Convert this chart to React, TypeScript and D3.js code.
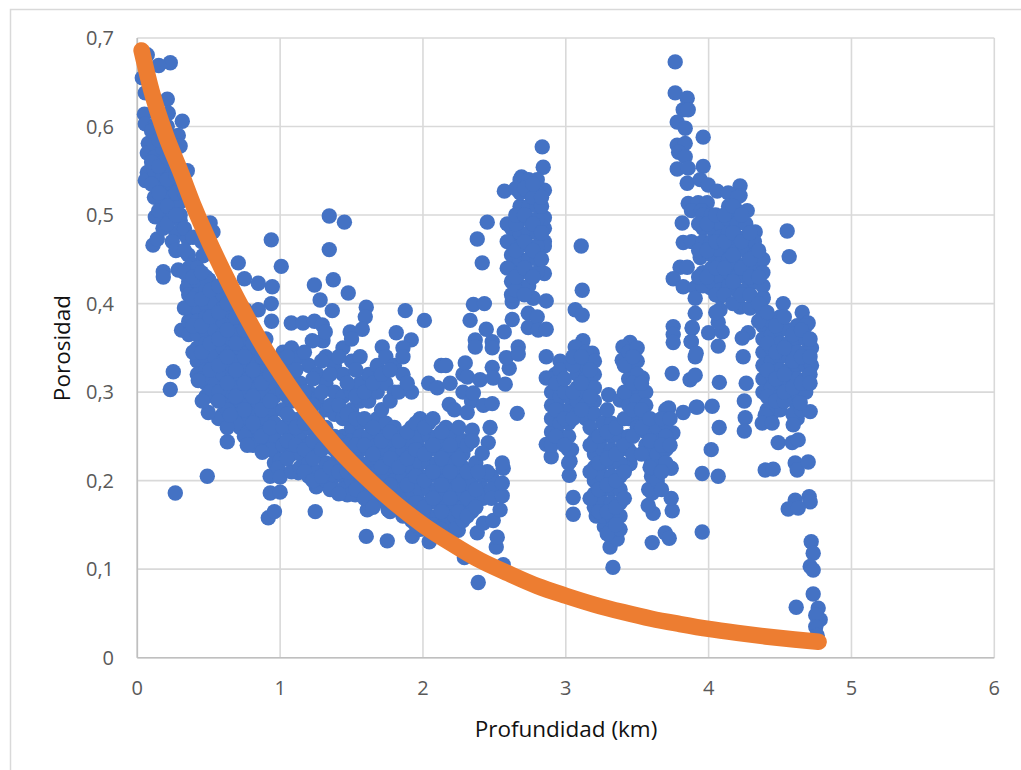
import React from "react";
import * as d3 from "d3";

const xTicks = [0, 1, 2, 3, 4, 5, 6];
const yTicks = [0, 0.1, 0.2, 0.3, 0.4, 0.5, 0.6, 0.7];
const xTitle = "Profundidad (km)";
const yTitle = "Porosidad";

type Pair = [number, number];
type Col = [number, number[]];

const shallowPairs: Pair[] = [[.231,.672],[.15,.669],[.07,.681],[.035,.655],[.056,.638],[.21,.631],[.05,.614],[.056,.603],[.315,.606],[.217,.615],[.287,.59],[.30,.578],[.077,.581],[.07,.57],[.35,.55],[.07,.548],[.056,.539],[.126,.498],[.18,.494],[.11,.466],[.14,.473],[.18,.485],[.51,.491],[.53,.481],[.30,.494],[.27,.48],[.35,.474],[.245,.47],[.357,.455],[.46,.454],[.39,.444],[.287,.438],[.182,.436],[.182,.43],[.707,.446],[.75,.428],[.5,.427],[.57,.413],[.35,.418],[.365,.41],[.48,.40],[.55,.39],[.38,.389],[.336,.37],[.31,.37],[.252,.323],[.231,.303],[.266,.186],[.49,.205]];
const shallowCols: Col[] = [
  [.12,[.60,.58,.565,.55,.535,.52]],[.18,[.59,.575,.56,.545,.53,.515]],[.24,[.58,.565,.55,.535,.52,.505]],[.30,[.53,.515,.50]],
  [.36,[.44,.425,.41,.395,.38,.365]],[.42,[.44,.425,.41,.395,.38,.365,.35,.335,.32]],[.48,[.43,.415,.40,.385,.37,.355,.34,.325,.31,.295]],[.54,[.40,.385,.37,.355,.34,.325,.31,.295]],[.60,[.41,.395,.38,.365,.35,.335,.32,.305,.29,.275]],[.66,[.39,.375,.36,.345,.33,.315,.30,.285,.27]],[.72,[.38,.365,.35,.335,.32,.305,.29,.275,.26]],[.78,[.36,.345,.33,.315,.30,.285,.27,.255,.245]],[.84,[.35,.335,.32,.305,.29,.275,.26,.245]],[.90,[.36,.33,.315,.30,.285,.27,.255,.24]],[.96,[.31,.295,.28,.265,.25,.235,.22]],
];
const shallowInfill: Col[] = [
  [.10,[.595,.56,.535]],[.15,[.61,.585,.555,.525,.505]],[.21,[.60,.565,.54,.51,.49]],[.27,[.545,.525,.50,.46]],[.33,[.525,.485,.46,.435,.395]],[.39,[.475,.43,.405,.375,.345]],[.45,[.47,.435,.405,.375,.345,.315]],[.51,[.415,.385,.355,.325,.30]],[.57,[.42,.39,.36,.33,.30,.27]],[.63,[.40,.37,.34,.31,.28]],[.69,[.385,.355,.325,.295,.265]],[.75,[.37,.34,.31,.28,.25]],[.81,[.355,.325,.295,.265,.24]],[.87,[.34,.31,.28,.25]],[.93,[.32,.29,.26,.235,.205]],
];
const midPairs: Pair[] = [[.917,.158],[.96,.165],[1.246,.165],[.931,.186],[1.0,.187],[1.603,.137],[1.75,.132],[1.925,.137],[2.044,.131],[2.29,.113],[2.247,.144],[1.61,.167],[1.757,.167],[1.47,.184],[1.526,.184],[1.253,.193],[1.127,.209],[1.337,.197],[1.0,.223],[.987,.214],[1.0,.204],[1.022,.24],[.875,.232],[.77,.24],[.63,.244],[.63,.26],[.65,.274],[.497,.277],[.455,.29],[.567,.29],[.427,.313],[1.344,.499],[1.45,.492],[1.344,.461],[1.372,.427],[1.24,.421],[1.477,.412],[1.28,.404],[1.365,.392],[1.30,.358],[.938,.472],[1.008,.442],[.847,.423],[.945,.419],[.938,.40],[.94,.38],[1.078,.378],[1.16,.378],[1.24,.38],[1.295,.376],[1.316,.368],[1.603,.396],[1.596,.385],[1.49,.368],[1.575,.371],[1.876,.392],[2.01,.381],[1.813,.367],[1.918,.359],[1.715,.351],[.847,.393],[.756,.393],[1.225,.358],[1.86,.35],[2.128,.33],[2.184,.286]];
const midCols: Col[] = [
  [1.02,[.345,.33,.315,.30,.28,.26,.24]],[1.08,[.35,.33,.31,.29,.27,.25,.23,.21]],[1.14,[.34,.31,.29,.27,.25,.23,.215]],[1.2,[.33,.30,.28,.26,.24,.22,.205]],[1.26,[.32,.29,.27,.25,.23,.21,.195]],[1.32,[.34,.31,.28,.26,.24,.22,.20]],[1.38,[.33,.30,.275,.25,.235,.22,.205,.19]],[1.44,[.35,.32,.295,.27,.25,.235,.22,.205,.19]],[1.5,[.36,.335,.30,.28,.26,.245,.23,.215,.20,.185]],[1.56,[.34,.31,.29,.265,.25,.235,.22,.205,.19]],[1.62,[.32,.29,.265,.25,.235,.22,.205,.19,.175]],[1.68,[.33,.30,.27,.255,.24,.225,.21,.195,.18]],[1.74,[.34,.31,.265,.25,.235,.22,.205,.19,.175]],[1.80,[.33,.30,.26,.245,.23,.215,.20,.185,.17]],[1.86,[.34,.32,.25,.235,.22,.205,.19,.175,.16]],[1.92,[.30,.26,.245,.23,.215,.20,.185,.17,.155]],[1.98,[.27,.25,.235,.22,.205,.19,.175,.16,.145]],[2.04,[.31,.265,.25,.235,.22,.205,.19,.175,.16]],[2.10,[.305,.25,.235,.22,.205,.19,.175,.16]],[2.16,[.33,.26,.245,.23,.215,.20,.185,.17,.155]],[2.22,[.28,.25,.235,.22,.205,.19,.175,.16,.145]],[2.28,[.32,.30,.245,.23,.215,.20,.185,.17,.155]],[2.34,[.29,.21,.195,.18,.165]],[2.42,[.205,.19,.18]],[2.48,[.205,.19,.18]],
];
const midInfill: Col[] = [
  [1.05,[.34,.32,.295,.275,.245,.225]],[1.11,[.325,.30,.26,.24]],[1.17,[.345,.30,.265,.235,.21]],[1.23,[.315,.285,.245,.225,.20]],[1.29,[.335,.30,.26,.235,.205]],[1.35,[.32,.285,.25,.215,.19]],[1.41,[.34,.285,.245,.21,.185]],[1.47,[.31,.275,.24,.21]],[1.53,[.325,.295,.27,.24,.21,.19]],[1.59,[.30,.27,.24,.21,.18]],[1.65,[.31,.26,.23,.20,.17]],[1.71,[.32,.28,.245,.215,.185]],[1.77,[.325,.29,.255,.225,.195,.165]],[1.83,[.30,.245,.215,.18]],[1.89,[.31,.255,.225,.195,.165]],[1.95,[.265,.235,.205,.175,.15]],[2.01,[.26,.23,.20,.17]],[2.07,[.27,.24,.21,.18,.15]],[2.13,[.255,.225,.195,.165,.145]],[2.19,[.31,.24,.21,.18]],[2.25,[.26,.225,.195,.165]],[2.31,[.24,.21,.18,.16]],[2.37,[.22,.19,.17]],
];
const towerPairs: Pair[] = [[2.387,.085],[2.513,.125],[2.52,.136],[2.38,.141],[2.423,.152],[2.562,.105],[2.492,.155],[2.54,.167],[2.555,.183],[2.562,.214],[2.555,.22],[2.45,.21],[2.387,.21],[2.555,.197],[2.47,.26],[2.457,.243],[2.345,.257],[2.415,.231],[2.345,.245],[2.31,.277],[2.423,.285],[2.485,.287],[2.353,.299],[2.296,.333],[2.31,.317],[2.40,.314],[2.485,.328],[2.492,.316],[2.576,.309],[2.604,.327],[2.583,.339],[2.667,.351],[2.667,.343],[2.66,.276],[2.863,.34],[2.485,.357],[2.485,.35],[2.366,.359],[2.366,.351],[2.443,.371],[2.569,.368],[2.625,.382],[2.33,.381],[2.353,.399],[2.43,.40],[2.415,.446],[2.38,.473],[2.45,.492],[2.57,.527],[2.835,.577],[2.842,.554],[2.737,.389],[2.737,.373],[2.80,.385],[2.807,.37],[2.863,.371],[2.863,.403],[2.772,.406],[2.625,.402],[2.85,.434],[2.85,.47],[2.85,.485],[2.85,.497],[2.85,.465],[2.85,.528],[2.69,.543],[2.80,.54]];
const towerCols: Col[] = [
  [2.62,[.41,.425,.44,.455,.47,.485]],[2.68,[.42,.435,.45,.465,.48,.495,.51,.525,.54]],[2.74,[.42,.435,.45,.465,.48,.495,.51,.525,.54]],[2.80,[.435,.45,.465,.48,.495,.51,.525]],
];
const towerInfill: Col[] = [
  [2.59,[.44,.47,.49]],[2.65,[.415,.43,.46,.49,.50,.53]],[2.71,[.41,.44,.47,.50,.53]],[2.77,[.43,.46,.49,.52,.535]],[2.83,[.45,.48,.51,.52]],
];
const thirdPairs: Pair[] = [[2.926,.32],[2.863,.316],[2.96,.335],[3.108,.465],[3.115,.415],[3.066,.393],[3.115,.387],[3.12,.358],[3.066,.351],[3.185,.344],[3.45,.356],[3.40,.351],[3.48,.345],[3.395,.336],[3.535,.316],[3.052,.181],[3.052,.162],[3.024,.206],[3.03,.222],[3.04,.235],[2.898,.227],[2.863,.241],[3.33,.102],[3.31,.125],[3.36,.134],[3.213,.16],[3.27,.148],[3.605,.13],[3.696,.141],[3.724,.135],[3.745,.166],[3.738,.18],[3.612,.163],[3.577,.172],[3.605,.186],[3.738,.214],[3.45,.219],[3.955,.208],[3.955,.142],[3.745,.321],[3.752,.374],[3.752,.365],[3.752,.356],[3.87,.314],[3.906,.319],[3.885,.372],[3.878,.357],[3.906,.34],[3.822,.277],[3.913,.283],[3.3,.297],[3.38,.291],[3.75,.254],[3.72,.282],[3.58,.19]];
const thirdCols: Col[] = [
  [2.9,[.24,.255,.27,.285,.30,.315]],[2.96,[.25,.265,.28,.295,.31,.325]],[3.02,[.22,.235,.25,.265,.28,.295]],[3.08,[.33,.32,.305,.29,.275]],[3.14,[.345,.33,.315,.30,.285,.27]],[3.2,[.335,.32,.305,.29,.275,.245,.23,.215,.20,.185,.17]],[3.26,[.265,.25,.235,.22,.205,.19,.175,.16]],[3.32,[.265,.25,.235,.22,.205,.19,.175,.16,.145]],[3.38,[.25,.235,.22,.205,.19,.175,.16,.145]],[3.44,[.345,.33,.315,.30,.285,.27,.25,.235]],[3.5,[.35,.335,.32,.305,.29,.275,.26]],[3.56,[.30,.285,.27,.255,.24]],[3.6,[.25,.235,.22,.205]],[3.64,[.26,.245,.23,.215,.20]],[3.7,[.28,.265,.25,.235,.22]],
];
const thirdInfill: Col[] = [
  [2.93,[.25,.28,.31]],[2.99,[.24,.27,.30,.315]],[3.05,[.27,.30,.33,.34]],[3.11,[.28,.31,.34]],[3.17,[.26,.295,.325,.24,.21,.18]],[3.23,[.25,.22,.19,.165]],[3.29,[.255,.225,.195,.165,.14,.28]],[3.35,[.26,.23,.20,.17,.15]],[3.41,[.33,.30,.27,.24,.21,.18]],[3.47,[.34,.31,.28,.25,.23]],[3.53,[.31,.28,.26,.23]],[3.59,[.27,.245,.215]],[3.67,[.27,.24,.21,.19]],[3.73,[.27,.24]],
];
const deepPairs: Pair[] = [[3.766,.673],[3.766,.638],[3.85,.632],[3.822,.619],[3.857,.619],[3.78,.605],[3.836,.598],[3.962,.588],[3.78,.579],[3.836,.581],[3.79,.571],[3.836,.566],[3.78,.552],[3.857,.553],[3.962,.555],[3.85,.536],[3.941,.54],[3.997,.534],[4.06,.527],[4.22,.533],[4.137,.525],[4.22,.522],[3.857,.513],[3.927,.514],[3.99,.514],[4.27,.505],[4.15,.509],[3.815,.491],[3.88,.505],[3.95,.505],[4.326,.481],[4.55,.482],[4.564,.453],[3.822,.469],[3.88,.47],[3.941,.452],[3.80,.441],[3.85,.441],[3.752,.428],[3.822,.419],[3.906,.418],[3.906,.406],[3.906,.389],[3.885,.373],[3.878,.357],[3.913,.344],[4.0,.367],[4.067,.352],[4.095,.368],[4.067,.379],[4.08,.393],[4.08,.408],[4.01,.418],[4.22,.396],[4.29,.395],[4.277,.367],[4.235,.361],[4.242,.34],[4.382,.407],[4.522,.40],[4.655,.39],[4.697,.378],[4.075,.311],[4.263,.31],[4.25,.29],[4.256,.271],[4.25,.256],[4.025,.284],[3.92,.283],[4.074,.26],[4.018,.235],[4.067,.205]];
const deepCols: Col[] = [
  [3.96,[.50,.485,.47,.435,.42]],[4.02,[.50,.485,.47,.455,.44,.425]],[4.08,[.49,.475,.46,.445,.43,.415]],[4.14,[.51,.495,.48,.465,.45,.435,.42]],[4.2,[.52,.505,.49,.475,.46,.445,.43,.415]],[4.26,[.49,.475,.46,.445,.43,.415]],[4.32,[.47,.455,.44,.425]],[4.38,[.45,.435,.42,.405,.39,.375,.36,.345,.33,.315,.30]],[4.44,[.38,.365,.35,.335,.32,.305,.29,.275]],[4.5,[.385,.37,.355,.34,.325,.31,.295,.28]],[4.56,[.37,.355,.34,.325,.31,.295]],[4.62,[.375,.36,.345,.33,.315,.30,.285,.27]],[4.68,[.375,.36,.345,.33,.315,.30]],[4.72,[.35,.33]],
];
const deepInfill: Col[] = [
  [3.93,[.49,.46,.43]],[3.99,[.49,.46,.43]],[4.05,[.50,.47,.44,.41,.39]],[4.11,[.50,.47,.44,.41]],[4.17,[.51,.48,.455,.425,.40]],[4.23,[.50,.47,.44,.41]],[4.29,[.48,.45,.43,.41]],[4.35,[.46,.43,.40,.38]],[4.41,[.39,.355,.325,.295,.28]],[4.47,[.375,.345,.315,.29]],[4.53,[.385,.35,.32,.29,.30]],[4.59,[.365,.335,.305,.275]],[4.65,[.37,.34,.31,.28]],[4.71,[.36,.34,.32,.31]],
];
const edgePairs: Pair[] = [[4.396,.212],[4.452,.213],[4.487,.243],[4.585,.243],[4.627,.246],[4.711,.278],[4.641,.288],[4.606,.22],[4.62,.212],[4.697,.221],[4.606,.178],[4.704,.182],[4.711,.176],[4.557,.168],[4.627,.169],[4.718,.131],[4.732,.118],[4.711,.103],[4.732,.099],[4.732,.072],[4.613,.057],[4.767,.056],[4.781,.043],[4.75,.048],[4.75,.035],[4.76,.025],[4.396,.274],[4.375,.265],[4.445,.265],[4.592,.263]];
const curveDepth = [.03,.1,.2,.3,.4,.5,.6,.7,.8,.9,1,1.2,1.4,1.6,1.8,2,2.2,2.4,2.6,2.8,3,3.2,3.4,3.6,3.8,4,4.2,4.4,4.6,4.77];
const curvePorosity = [.686,.64,.59,.55,.508,.471,.437,.405,.375,.347,.322,.276,.237,.204,.175,.150,.129,.11,.095,.081,.070,.060,.0515,.044,.038,.0325,.028,.024,.0205,.018];

const expand = (cols: Col[]): Pair[] => cols.flatMap(([d, ps]) => ps.map((p) => [d, p] as Pair));
const points: Pair[] = [
  ...shallowPairs, ...expand(shallowCols), ...expand(shallowInfill),
  ...midPairs, ...expand(midCols), ...expand(midInfill),
  ...towerPairs, ...expand(towerCols), ...expand(towerInfill),
  ...thirdPairs, ...expand(thirdCols), ...expand(thirdInfill),
  ...deepPairs, ...expand(deepCols), ...expand(deepInfill), ...edgePairs,
];

const W = 1021, H = 770;
const left = 137.3, right = 994.3, top = 38, bottom = 657.7;
const FONT = "'Open Sans', sans-serif";

export default function App() {
  const x = d3.scaleLinear().domain([0, 6]).range([left, right]);
  const y = d3.scaleLinear().domain([0, 0.7]).range([bottom, top]);
  const curve = d3.line<number>().x((d) => x(d)).y((_, i) => y(curvePorosity[i])).curve(d3.curveMonotoneX);
  const fmt = (v: number) => String(v).replace(".", ",");
  return (
    <svg width={W} height={H} style={{ position: "absolute", left: 0, top: 0, background: "#fff" }}>
      <path d={`M10.5,${H}V9.5H${W}`} fill="none" stroke="#D9D9D9" strokeWidth={1.5} />
      {xTicks.map((t) => (
        <line key={`gx${t}`} x1={x(t)} x2={x(t)} y1={top} y2={bottom} stroke="#D9D9D9" strokeWidth={1.6} />
      ))}
      {yTicks.map((t) => (
        <line key={`gy${t}`} x1={left} x2={right} y1={y(t)} y2={y(t)} stroke="#D9D9D9" strokeWidth={1.6} />
      ))}
      <line x1={left} x2={left} y1={top} y2={bottom} stroke="#BFBFBF" strokeWidth={1.6} />
      <line x1={left} x2={right} y1={bottom} y2={bottom} stroke="#BFBFBF" strokeWidth={1.6} />
      <g fill="#4472C4">
        {points.map(([d, p], i) => (
          <circle key={i} cx={x(d)} cy={y(p)} r={7.7} />
        ))}
      </g>
      <path d={curve(curveDepth) ?? ""} fill="none" stroke="#ED7D31" strokeWidth={16.5} strokeLinecap="round" strokeLinejoin="round" />
      <g fontFamily={FONT} fontSize={20} fill="#595959">
        {yTicks.map((t) => (
          <text key={t} x={114} y={y(t)} dy="0.36em" textAnchor="end">{fmt(t)}</text>
        ))}
        {xTicks.map((t) => (
          <text key={t} x={x(t)} y={688} dy="0.36em" textAnchor="middle">{t}</text>
        ))}
      </g>
      <g fontFamily={FONT} fontSize={22.5} fill="#111">
        <text x={566} y={729} dy="0.36em" textAnchor="middle">{xTitle}</text>
        <text transform="translate(62,348) rotate(-90)" dy="0.36em" textAnchor="middle">{yTitle}</text>
      </g>
    </svg>
  );
}
